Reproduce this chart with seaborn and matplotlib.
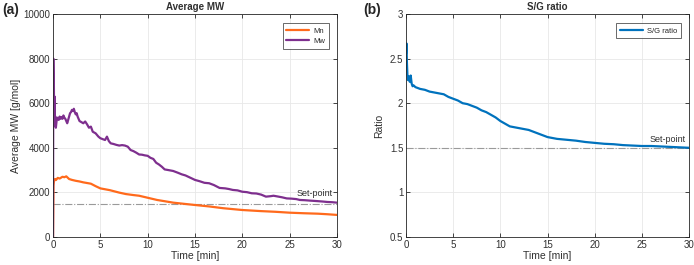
import numpy as np
import pandas as pd
import matplotlib
matplotlib.use('Agg')
import matplotlib.pyplot as plt
import seaborn as sns

# ============================================================
# DATA
# ============================================================

t_mw = [0, 0.03, 0.06, 0.09, 0.12, 0.16, 0.2, 0.25, 0.3, 0.4, 0.5, 0.6, 0.7, 0.8, 0.9, 1.0,
        1.1, 1.2, 1.3, 1.4, 1.5, 1.6, 1.7, 1.8, 1.9, 2.0, 2.1, 2.2, 2.3, 2.4, 2.5, 2.6, 2.8,
        3.0, 3.2, 3.4, 3.6, 3.8, 4.0, 4.2, 4.5, 4.8, 5.0, 5.3, 5.5, 5.7, 5.9, 6.1, 6.4, 6.7,
        7.0, 7.3, 7.6, 7.9, 8.2, 8.5, 8.8, 9.1, 9.4, 9.7, 10.0, 10.3, 10.6, 10.9, 11.2, 11.5,
        11.8, 12.2, 12.7, 13.2, 13.6, 14.0, 14.5, 15.0, 15.5, 16.0, 16.5, 17.0, 17.6, 18.2,
        18.6, 19.0, 19.5, 20.0, 20.5, 21.0, 21.5, 22.0, 22.5, 23.0, 23.3, 23.7, 24.2, 24.7,
        25.2, 25.7, 26.1, 26.6, 27.2, 27.9, 28.5, 29.0, 29.5, 30.0]
mw = [0, 8000, 7000, 6900, 5000, 6300, 5200, 5400, 4900, 5300, 5350, 5250, 5400, 5300, 5380,
      5300, 5450, 5350, 5300, 5200, 5100, 5250, 5400, 5550, 5600, 5700, 5650, 5750, 5600,
      5500, 5550, 5400, 5200, 5150, 5100, 5180, 5050, 4900, 4950, 4720, 4650, 4500, 4430,
      4380, 4350, 4500, 4300, 4200, 4170, 4130, 4100, 4120, 4100, 4050, 3900, 3850, 3780,
      3700, 3690, 3660, 3640, 3550, 3500, 3330, 3250, 3150, 3030, 3000, 2960, 2880, 2810,
      2760, 2660, 2560, 2500, 2430, 2410, 2330, 2200, 2180, 2150, 2110, 2090, 2030, 2010,
      1960, 1950, 1900, 1810, 1830, 1850, 1820, 1780, 1730, 1720, 1700, 1660, 1650, 1630,
      1610, 1590, 1570, 1560, 1540]

t_mn = [0, 0.05, 0.1, 0.2, 0.3, 0.5, 0.7, 1.0, 1.2, 1.4, 1.7, 2.0, 2.4, 2.8, 3.2, 3.6, 4.0,
        4.5, 5.0, 6.0, 7.0, 7.7, 8.5, 9.1, 10.0, 11.0, 12.0, 12.7, 14.0, 15.0, 16.5, 18.0,
        20.0, 22.0, 23.5, 25.0, 26.5, 28.0, 29.0, 30.0]
mn = [0, 2300, 2500, 2600, 2550, 2650, 2620, 2700, 2680, 2720, 2600, 2560, 2520, 2490, 2450,
      2420, 2390, 2280, 2180, 2100, 1990, 1925, 1880, 1850, 1760, 1660, 1590, 1540, 1480,
      1435, 1370, 1290, 1210, 1160, 1130, 1090, 1065, 1045, 1020, 990]

t_sg = [0, 0.05, 0.1, 0.15, 0.2, 0.3, 0.4, 0.5, 0.6, 0.7, 0.8, 1.0, 1.5, 2.0, 2.5, 3.0, 3.5,
        4.0, 4.5, 5.0, 5.5, 6.0, 6.5, 7.0, 7.5, 8.0, 8.5, 9.0, 9.5, 10.0, 10.5, 11.0, 11.5,
        12.0, 13.0, 14.0, 15.0, 16.0, 17.0, 18.0, 19.0, 20.0, 21.0, 22.0, 23.0, 24.0, 25.0,
        26.0, 27.0, 28.0, 29.0, 30.0]
sg = [2.55, 2.67, 2.45, 2.32, 2.26, 2.3, 2.24, 2.31, 2.22, 2.19, 2.2, 2.18, 2.16, 2.15, 2.13,
      2.12, 2.11, 2.1, 2.07, 2.05, 2.03, 2.0, 1.99, 1.97, 1.95, 1.92, 1.9, 1.87, 1.84, 1.8,
      1.77, 1.74, 1.73, 1.72, 1.7, 1.66, 1.62, 1.6, 1.59, 1.58, 1.565, 1.555, 1.545, 1.54,
      1.53, 1.525, 1.52, 1.52, 1.515, 1.51, 1.505, 1.5]

mw_setpoint = 1500
sg_setpoint = 1.5

# ============================================================
# STYLE
# ============================================================

sns.set_theme(style='whitegrid')
plt.rcParams['font.family'] = ['Liberation Sans', 'DejaVu Sans']
plt.rcParams['font.size'] = 7

c_mn = '#FF6A1C'
c_mw = '#7E2F8E'
c_sg = '#0072BD'
c_txt = '#303030'

df_mw = pd.concat([
    pd.DataFrame({'t': t_mn, 'val': mn, 'series': 'Mn'}),
    pd.DataFrame({'t': t_mw, 'val': mw, 'series': 'Mw'}),
], ignore_index=True)
df_sg = pd.DataFrame({'t': t_sg, 'val': sg, 'series': 'S/G ratio'})

fig = plt.figure(figsize=(6.94, 2.65), dpi=100)
ax1 = fig.add_axes([0.0764, 0.1057, 0.409, 0.8415])
ax2 = fig.add_axes([0.585, 0.1057, 0.408, 0.8415])


def style_axes(ax):
    ax.set_facecolor('white')
    ax.grid(True, color='#e8e8e8', linewidth=0.6)
    for s in ax.spines.values():
        s.set_visible(True)
        s.set_color('#262626')
        s.set_linewidth(0.6)
    ax.tick_params(direction='in', length=3, width=0.6, color='#262626',
                   labelsize=7, labelcolor=c_txt, pad=2,
                   top=True, right=True, bottom=True, left=True)


# ---- (a) Average MW ----
sns.lineplot(data=df_mw, x='t', y='val', hue='series', palette=[c_mn, c_mw],
             sort=False, estimator=None, linewidth=1.6, ax=ax1)
ax1.axhline(mw_setpoint, color='#9a9a9a', linestyle='-.', linewidth=0.8, zorder=1)
ax1.text(29.6, mw_setpoint + 250, 'Set-point', ha='right', va='bottom', fontsize=6.5,
         color=c_txt)
ax1.set_xlim(0, 30)
ax1.set_ylim(0, 10000)
ax1.set_xticks(range(0, 31, 5))
ax1.set_yticks(range(0, 10001, 2000))
ax1.set_xlabel('Time [min]', fontsize=7.5, labelpad=1, color=c_txt)
ax1.set_ylabel('Average MW [g/mol]', fontsize=7.5, labelpad=2, color=c_txt)
ax1.set_title('Average MW', fontsize=7, fontweight='bold', pad=3, color=c_txt)
style_axes(ax1)
leg = ax1.legend(loc='upper right', fontsize=5.5, frameon=True, fancybox=False,
                 edgecolor='#262626', handlelength=3.0, borderpad=0.5, labelspacing=0.4,
                 handletextpad=0.5, bbox_to_anchor=(0.985, 0.975))
leg.get_frame().set_linewidth(0.6)

# ---- (b) S/G ratio ----
sns.lineplot(data=df_sg, x='t', y='val', hue='series', palette=[c_sg],
             sort=False, estimator=None, linewidth=1.6, ax=ax2)
ax2.axhline(sg_setpoint, color='#9a9a9a', linestyle='-.', linewidth=0.8, zorder=1)
ax2.text(29.6, sg_setpoint + 0.04, 'Set-point', ha='right', va='bottom', fontsize=6.5,
         color=c_txt)
ax2.set_xlim(0, 30)
ax2.set_ylim(0.5, 3)
ax2.set_xticks(range(0, 31, 5))
ax2.set_yticks([0.5, 1, 1.5, 2, 2.5, 3])
ax2.set_yticklabels(['0.5', '1', '1.5', '2', '2.5', '3'])
ax2.set_xlabel('Time [min]', fontsize=7.5, labelpad=1, color=c_txt)
ax2.set_ylabel('Ratio', fontsize=7.5, labelpad=4, color=c_txt)
ax2.set_title('S/G ratio', fontsize=7, fontweight='bold', pad=3, color=c_txt)
style_axes(ax2)
leg2 = ax2.legend(loc='upper right', fontsize=5.5, frameon=True, fancybox=False,
                  edgecolor='#262626', handlelength=3.0, borderpad=0.5,
                  handletextpad=0.5, bbox_to_anchor=(0.985, 0.975))
leg2.get_frame().set_linewidth(0.6)

# panel letters
fig.text(0.003, 0.99, '(a)', fontsize=10, fontweight='bold', va='top', ha='left')
fig.text(0.523, 0.99, '(b)', fontsize=10, fontweight='bold', va='top', ha='left')

plt.savefig('out.png', dpi=100)
plt.close()
